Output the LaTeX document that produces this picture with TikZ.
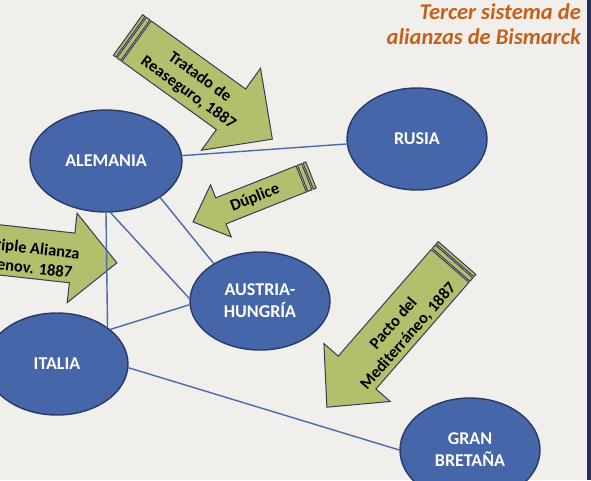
\documentclass[tikz,border=0pt]{standalone}
\usepackage{fontspec}
\setmainfont{Carlito}
\usetikzlibrary{shapes.geometric}
\definecolor{bg}{RGB}{240,239,236}
\definecolor{ellfill}{RGB}{70,102,170}
\definecolor{ellline}{RGB}{40,58,105}
\definecolor{linkcol}{RGB}{72,108,172}
\definecolor{arrfill}{RGB}{180,191,110}
\definecolor{arrline}{RGB}{52,62,82}
\definecolor{titlecol}{RGB}{198,96,26}
\definecolor{edgebar}{RGB}{38,48,90}
\newcommand{\blockarr}[8]{%
\begin{scope}[shift={(#1,#2)}, rotate=#3]
 \pgfmathsetmacro\arrhw{#5/2}
 \pgfmathsetmacro\arrhh{#6/2}
 \pgfmathsetmacro\arrhb{#4-#7}
 \ifnum#8=1
  \path[arrowbody] (0,-\arrhw) rectangle (3,\arrhw);
  \path[arrowbody] (4.5,-\arrhw) rectangle (9,\arrhw);
  \def\arrst{10.5}
 \else \def\arrst{0}\fi
 \path[arrowbody] (\arrst,-\arrhw) -- (\arrhb,-\arrhw) -- (\arrhb,-\arrhh) -- (#4,0) -- (\arrhb,\arrhh) -- (\arrhb,\arrhw) -- (\arrst,\arrhw) -- cycle;
\end{scope}}
\begin{document}
\begin{tikzpicture}[x=1pt,y=-1pt,
  country/.style={ellipse, draw=ellline, line width=1.4pt, fill=ellfill, text=white,
    font=\bfseries\fontsize{18}{22}\selectfont, align=center, inner sep=0pt},
  link/.style={draw=linkcol, line width=1.4pt},
  arrowtext/.style={font=\bfseries\fontsize{16.5}{19.5}\selectfont, align=center, text=black, inner sep=0pt},
  arrowbody/.style={fill=arrfill, draw=arrline, line width=1pt, line join=miter}]
\useasboundingbox (0,0) rectangle (591,480);
\fill[bg] (0,0) rectangle (591,480);
\begin{scope}
\clip (0,0) rectangle (587,480);
% block arrows
\blockarr{128}{35}{-35.8}{178}{50}{101}{51}{1}
\blockarr{311}{175}{201.7}{127}{28}{56}{30}{1}
\blockarr{457}{258}{-131.1}{198}{50}{88}{46}{1}
\blockarr{-72}{242}{-6.3}{190}{50}{90}{45}{1}
\node[arrowtext, rotate=-35.8] (tratado) at (194,85) {Tratado de\\Reaseguro, 1887};
\node[arrowtext, rotate=21.7] (duplice) at (255,198) {Dúplice};
\node[arrowtext, rotate=48.9] (pacto) at (401,330) {Pacto del\\Mediterráneo, 1887};
\node[arrowtext, rotate=-6.3] (triple) at (33,258) {Triple Alianza\\renov. 1887};
% countries
\node[country, minimum width=152pt, minimum height=102pt] (alemania) at (106,161) {ALEMANIA};
\node[country, minimum width=140pt, minimum height=102pt] (rusia) at (417,139) {RUSIA};
\node[country, minimum width=140pt, minimum height=98pt] (austria) at (260,301) {AUSTRIA-\\HUNGRÍA};
\node[country, minimum width=142pt, minimum height=102pt] (italia) at (57,364) {ITALIA};
\node[country, minimum width=140pt, minimum height=104pt] (gb) at (470,450) {GRAN\\BRETAÑA};
% connectors
\draw[link] (alemania) -- (rusia);
\draw[link] (alemania.-34) -- (austria.141);
\draw[link] (alemania.-85) -- (austria.178);
\draw[link] (alemania.south) -- (italia.36);
\draw[link] (italia.33) -- (austria.183);
\draw[link] (italia.-3) -- (gb.180);
\end{scope}
\fill[edgebar] (587,0) rectangle (591,480);
\node[anchor=north east, align=right, text=titlecol, inner sep=0pt,
  font=\bfseries\itshape\fontsize{22.5}{25}\selectfont] (title) at (581,4) {Tercer sistema de\\alianzas de Bismarck};
\end{tikzpicture}
\end{document}
